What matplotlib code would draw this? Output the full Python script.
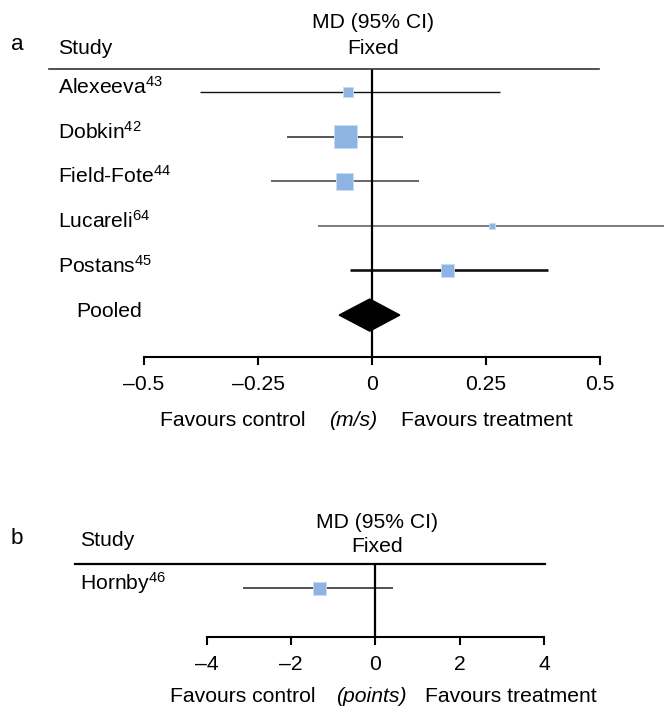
import matplotlib
matplotlib.use("Agg")
import numpy as np
import matplotlib.pyplot as plt

plt.rcParams['font.family'] = ['Liberation Sans', 'DejaVu Sans']
plt.rcParams['mathtext.fontset'] = 'custom'
plt.rcParams['mathtext.rm'] = 'Liberation Sans'
plt.rcParams['mathtext.it'] = 'Liberation Sans:italic'

# panel a data (mean difference, m/s)
studies_a = ['Alexeeva', 'Dobkin', 'Field-Fote', 'Lucareli', 'Postans']
refs_a = ['43', '42', '44', '64', '45']
md_a = [-0.053, -0.059, -0.061, 0.263, 0.165]
lo_a = [-0.377, -0.186, -0.221, -0.119, -0.048]
hi_a = [0.281, 0.068, 0.103, 0.70, 0.386]
weight_a = [9.0, 47.4, 25.9, 2.7, 15.1]
pooled_a = [-0.005, -0.072, 0.061]   # estimate, lower, upper
ticks_a = [-0.5, -0.25, 0, 0.25, 0.5]
ticklabels_a = ['\u20130.5', '\u20130.25', '0', '0.25', '0.5']

# panel b data (mean difference, points)
studies_b = ['Hornby']
refs_b = ['46']
md_b = [-1.34]
lo_b = [-3.15]
hi_b = [0.42]
ticks_b = [-4, -2, 0, 2, 4]
ticklabels_b = ['\u20134', '\u20132', '0', '2', '4']

W, H = 664, 707
FS = 15.2
fig = plt.figure(figsize=(W / 100, H / 100), dpi=100)


def fx(px):
    return px / W


def fy(py):
    return 1 - py / H


def style_axis(ax, ticks, labels):
    for s in ['top', 'left', 'right']:
        ax.spines[s].set_visible(False)
    ax.spines['bottom'].set_bounds(ticks[0], ticks[-1])
    ax.spines['bottom'].set_linewidth(1.5)
    ax.set_yticks([])
    ax.set_xticks(ticks)
    ax.set_xticklabels(labels, fontsize=FS)
    ax.tick_params(axis='x', direction='out', length=6, width=1.5, pad=7)
    ax.patch.set_alpha(0)


# ---------------- panel a ----------------
ax = fig.add_axes([0, fy(357), 1, (357 - 69) / H])
ax.set_xlim(-372 / 456, (W - 372) / 456)
ax.set_ylim(5.94, -0.516)
style_axis(ax, ticks_a, ticklabels_a)

rows = np.arange(len(studies_a))
ax.axvline(0, color='black', lw=1.6, zorder=2)
ci_colors = ['#111111', '#555555', '#666666', '#666666', '#111111']
ci_lw = [1.0, 1.4, 1.4, 1.2, 1.9]
ax.hlines(rows, lo_a, hi_a, colors=ci_colors, lw=ci_lw, zorder=1)
side_pt = 3.34 * np.sqrt(weight_a) * 0.72
ax.scatter(md_a, rows, marker='s', s=side_pt ** 2, color='#8eb4e3',
           edgecolors='#c9dcf3', linewidths=0.6, zorder=3)

est, plo, phi = pooled_a
yp = len(studies_a)
ax.fill([plo, est, phi, est], [yp, yp - 0.36, yp, yp + 0.36],
        color='black', zorder=4)

ax.plot([fx(49), fx(599)], [1, 1], transform=ax.transAxes, color='#333333',
        lw=1.2, clip_on=False)

ytr = ax.get_yaxis_transform()
for i, (name, ref) in enumerate(zip(studies_a, refs_a)):
    ax.text(fx(58), i - 0.11, name + '$^{\\mathrm{' + ref + '}}$',
            transform=ytr, fontsize=FS, va='center', ha='left')
ax.text(fx(76), yp - 0.07, 'Pooled', transform=ytr, fontsize=FS,
        va='center', ha='left')

fig.text(fx(17), fy(45), 'a', fontsize=FS + 1, ha='center', va='center')
fig.text(fx(58), fy(48), 'Study', fontsize=FS, ha='left', va='center')
fig.text(fx(373), fy(23), 'MD (95% CI)', fontsize=FS, ha='center', va='center')
fig.text(fx(373), fy(49), 'Fixed', fontsize=FS, ha='center', va='center')
fig.text(fx(233), fy(421), 'Favours control', fontsize=FS, ha='center', va='center')
fig.text(fx(353), fy(421), '(m/s)', fontsize=FS, ha='center', va='center',
         fontstyle='italic')
fig.text(fx(487), fy(421), 'Favours treatment', fontsize=FS, ha='center', va='center')

# ---------------- panel b ----------------
bx = fig.add_axes([0, fy(637), 1, (637 - 564) / H])
bx.set_xlim(-375.5 / 42.1, (W - 375.5) / 42.1)
bx.set_ylim(1.099, -0.538)
style_axis(bx, ticks_b, ticklabels_b)

rows_b = np.arange(len(studies_b))
bx.axvline(0, color='black', lw=1.6, zorder=2)
bx.hlines(rows_b, lo_b, hi_b, colors='#333333', lw=1.2, zorder=1)
bx.scatter(md_b, rows_b, marker='s', s=(13 * 0.72) ** 2, color='#8eb4e3',
           edgecolors='#c9dcf3', linewidths=0.6, zorder=3)
bx.plot([fx(75), fx(545)], [1, 1], transform=bx.transAxes, color='black',
        lw=1.6, clip_on=False)

ytr_b = bx.get_yaxis_transform()
for i, (name, ref) in enumerate(zip(studies_b, refs_b)):
    bx.text(fx(80), i - 0.11, name + '$^{\\mathrm{' + ref + '}}$',
            transform=ytr_b, fontsize=FS, va='center', ha='left')

fig.text(fx(17), fy(538), 'b', fontsize=FS + 1, ha='center', va='center')
fig.text(fx(80), fy(540), 'Study', fontsize=FS, ha='left', va='center')
fig.text(fx(377), fy(522), 'MD (95% CI)', fontsize=FS, ha='center', va='center')
fig.text(fx(377), fy(546), 'Fixed', fontsize=FS, ha='center', va='center')
fig.text(fx(243), fy(697), 'Favours control', fontsize=FS, ha='center', va='center')
fig.text(fx(371), fy(697), '(points)', fontsize=FS, ha='center', va='center',
         fontstyle='italic')
fig.text(fx(511), fy(697), 'Favours treatment', fontsize=FS, ha='center', va='center')

fig.savefig('out.png', dpi=100)
